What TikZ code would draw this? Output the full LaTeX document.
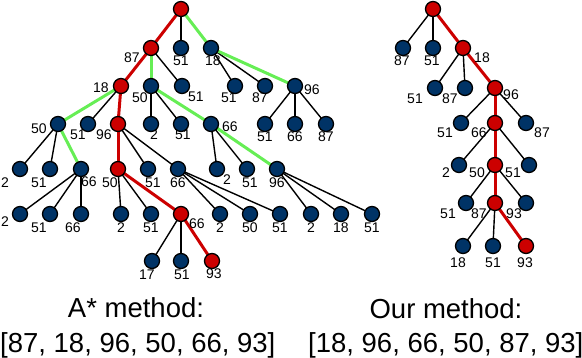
\documentclass[tikz,border=0pt]{standalone}
\usepackage{fontspec}
\setmainfont{Liberation Sans}
\definecolor{nblue}{RGB}{0,51,102}
\definecolor{nred}{RGB}{204,0,0}
\definecolor{ngreen}{RGB}{102,238,85}
\pgfdeclarelayer{bg}
\pgfsetlayers{bg,main}
\newcommand\TN[5]{\node[lbl] (#1l) at (#5) {#4}; \node[#3] (#1) at (#2) {};}
\begin{document}
\begin{tikzpicture}[x=1pt,y=-1pt,
 nd/.style={circle,draw=black,line width=1.3pt,minimum size=15pt,inner sep=0pt,fill=nblue},
 rd/.style={nd,fill=nred},
 lbl/.style={font=\fontsize{14}{14}\selectfont,inner sep=0pt},
 eb/.style={draw=black,line width=1.4pt},
 er/.style={draw=nred,line width=3pt},
 eg/.style={draw=ngreen,line width=3pt},
 big/.style={font=\fontsize{27.5}{27.5}\selectfont,inner sep=0pt}]
\useasboundingbox (0,0) rectangle (582,358);
% ---------- left tree ----------
\node[rd] (r) at (181,9) {};
\TN{a}{151,48}{rd}{87}{132,58}
\TN{b}{181,48}{nd}{51}{181,61}
\TN{c}{211,48}{nd}{18}{213,61}
\TN{d}{121,86}{rd}{18}{101,88}
\TN{e}{151,86}{nd}{50}{140,98}
\TN{f}{182,86}{nd}{51}{196,97}
\TN{g}{235,86}{nd}{51}{229,98}
\TN{h}{265,86}{nd}{87}{260,98}
\TN{i}{295,86}{nd}{96}{312,90}
\TN{j}{58,124}{nd}{50}{39,129}
\TN{k}{88,124}{nd}{51}{78,135}
\TN{l}{118,124}{rd}{96}{104,135}
\TN{m}{151,124}{nd}{2}{154,135}
\TN{n}{181,124}{nd}{51}{183,135}
\TN{o}{211,124}{nd}{66}{230,127}
\TN{p}{265,124}{nd}{51}{265,137}
\TN{q}{295,124}{nd}{66}{295,137}
\TN{s}{326,124}{nd}{87}{326,137}
\TN{ta}{20,169}{nd}{2}{5,183}
\TN{tb}{50,169}{nd}{51}{39,183}
\TN{tc}{81,169}{nd}{66}{89,182}
\TN{td}{118,169}{rd}{50}{110,183}
\TN{te}{148,169}{nd}{51}{153,183}
\TN{tf}{178,169}{nd}{66}{178,183}
\TN{tg}{217,169}{nd}{2}{227,180}
\TN{th}{247,169}{nd}{51}{250,183}
\TN{ti}{277,169}{nd}{96}{277,183}
\TN{ua}{20,214}{nd}{2}{5,222}
\TN{ub}{50,214}{nd}{51}{39,228}
\TN{uc}{81,214}{nd}{66}{73,228}
\TN{ud}{121,214}{nd}{2}{121,228}
\TN{ue}{151,214}{nd}{51}{151,228}
\TN{uf}{181,214}{rd}{66}{197,224}
\TN{ug}{220,214}{nd}{2}{220,228}
\TN{uh}{250,214}{nd}{50}{250,228}
\TN{ui}{280,214}{nd}{51}{280,228}
\TN{uj}{311,214}{nd}{2}{311,228}
\TN{uk}{341,214}{nd}{18}{341,228}
\TN{ul}{372,214}{nd}{51}{372,228}
\TN{va}{152,261}{nd}{17}{147,275}
\TN{vb}{181,261}{nd}{51}{182,275}
\TN{vc}{212,261}{rd}{93}{214,274}
% ---------- right tree ----------
\node[rd] (R) at (433,9) {};
\TN{Ra}{403,48}{nd}{87}{402,61}
\TN{Rb}{433,48}{nd}{51}{432,61}
\TN{Rc}{463,48}{rd}{18}{482,58}
\TN{Rd}{435,88}{nd}{51}{415,99}
\TN{Re}{465,88}{nd}{87}{450,99}
\TN{Rf}{495,88}{rd}{96}{511,95}
\TN{Rg}{461,123}{nd}{51}{445,133}
\TN{Rh}{495,123}{rd}{66}{479,133}
\TN{Ri}{526,123}{nd}{87}{542,133}
\TN{Rj}{459,165}{nd}{2}{446,173}
\TN{Rk}{495,165}{rd}{50}{477,173}
\TN{Rl}{529,165}{nd}{51}{513,173}
\TN{Rm}{466,203}{nd}{51}{448,214}
\TN{Rn}{495,203}{rd}{87}{479,214}
\TN{Ro}{526,203}{nd}{93}{514,214}
\TN{Rp}{463,246}{nd}{18}{458,263}
\TN{Rq}{493,246}{nd}{51}{493,263}
\TN{Rr}{526,246}{rd}{93}{525,263}
% ---------- edges ----------
\begin{pgfonlayer}{bg}
\draw[er] (r.center) -- (a.center);
\draw[eb] (r.center) -- (b.center);
\draw[eg] (r.center) -- (c.center);
\draw[er] (a.center) -- (d.center);
\draw[eg] (a.center) -- (e.center);
\draw[eb] (a.center) -- (f.center);
\draw[eb] (c.center) -- (g.center);
\draw[eb] (c.center) -- (h.center);
\draw[eg] (c.center) -- (i.center);
\draw[eg] (d.center) -- (j.center);
\draw[eb] (d.center) -- (k.center);
\draw[er] (d.center) -- (l.center);
\draw[eb] (e.center) -- (m.center);
\draw[eb] (e.center) -- (n.center);
\draw[eg] (e.center) -- (o.center);
\foreach \x in {p,q,s} \draw[eb] (i.center) -- (\x.center);
\draw[eb] (j.center) -- (ta.center);
\draw[eb] (j.center) -- (tb.center);
\draw[eg] (j.center) -- (tc.center);
\draw[er] (l.center) -- (td.center);
\draw[eb] (l.center) -- (te.center);
\draw[eb] (l.center) -- (tf.center);
\draw[eb] (o.center) -- (tg.center);
\draw[eb] (o.center) -- (th.center);
\draw[eg] (o.center) -- (ti.center);
\foreach \x in {ua,ub,uc} \draw[eb] (tc.center) -- (\x.center);
\draw[eb] (td.center) -- (ud.center);
\draw[eb] (td.center) -- (ue.center);
\draw[er] (td.center) -- (uf.center);
\foreach \x in {ug,uh,ui} \draw[eb] (tf.center) -- (\x.center);
\foreach \x in {uj,uk,ul} \draw[eb] (ti.center) -- (\x.center);
\draw[eb] (uf.center) -- (va.center);
\draw[eb] (uf.center) -- (vb.center);
\draw[er] (uf.center) -- (vc.center);
% right
\draw[eb] (R.center) -- (Ra.center);
\draw[eb] (R.center) -- (Rb.center);
\draw[er] (R.center) -- (Rc.center);
\draw[eb] (Rc.center) -- (Rd.center);
\draw[eb] (Rc.center) -- (Re.center);
\draw[er] (Rc.center) -- (Rf.center);
\draw[eb] (Rf.center) -- (Rg.center);
\draw[er] (Rf.center) -- (Rh.center);
\draw[eb] (Rf.center) -- (Ri.center);
\draw[eb] (Rh.center) -- (Rj.center);
\draw[er] (Rh.center) -- (Rk.center);
\draw[eb] (Rh.center) -- (Rl.center);
\draw[eb] (Rk.center) -- (Rm.center);
\draw[er] (Rk.center) -- (Rn.center);
\draw[eb] (Rk.center) -- (Ro.center);
\draw[eb] (Rn.center) -- (Rp.center);
\draw[eb] (Rn.center) -- (Rq.center);
\draw[er] (Rn.center) -- (Rr.center);
\end{pgfonlayer}
% ---------- captions ----------
\node[big,anchor=base] (capA) at (136,318) {A* method:};
\node[big,anchor=base west] (listA) at (0,352.5) {[87, 18, 96, 50, 66, 93]};
\node[big,anchor=base] (capB) at (446,319) {Our method:};
\node[big,anchor=base west] (listB) at (308,352.5) {[18, 96, 66, 50, 87, 93]};
\end{tikzpicture}
\end{document}
